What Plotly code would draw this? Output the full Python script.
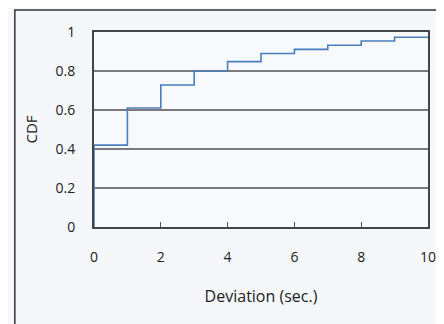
import plotly.graph_objects as go

deviation = [0, 0, 1, 2, 3, 4, 5, 6, 7, 8, 9, 10]
cdf = [0, 0.42, 0.61, 0.728, 0.80, 0.848, 0.89, 0.911, 0.932, 0.954, 0.973, 0.973]
x_ticks = [0, 2, 4, 6, 8, 10]
y_ticks = [0, 0.2, 0.4, 0.6, 0.8, 1]
y_tick_labels = ["0", "0.2", "0.4", "0.6", "0.8", "1"]

font_family = "Open Sans, sans-serif"

fig = go.Figure()
fig.add_trace(go.Scatter(
    x=deviation, y=cdf, mode="lines", line_shape="hv",
    line=dict(color="#4a7ebb", width=1.6), showlegend=False,
))

fig.update_layout(
    width=436, height=316,
    margin=dict(l=86, r=8, t=24, b=97),
    paper_bgcolor="#f5f7fb",
    plot_bgcolor="#f8f9fc",
    font=dict(family=font_family, size=14, color="#222"),
    xaxis=dict(
        range=[0, 10], tickvals=x_ticks, ticks="inside", ticklen=5,
        tickcolor="#555", showgrid=False, zeroline=False,
        showline=True, linecolor="#444", linewidth=2, mirror=True,
        ticklabelstandoff=16,
        title=dict(text="Deviation (sec.)", standoff=26, font=dict(size=16)),
        tickfont=dict(size=14),
    ),
    yaxis=dict(
        range=[0, 1], tickvals=y_ticks, ticktext=y_tick_labels,
        showgrid=True, gridcolor="#7a7a7a", gridwidth=1.5, zeroline=False,
        showline=True, linecolor="#444", linewidth=2, mirror=True,
        ticks="", ticklabelstandoff=14,
        title=dict(text="CDF", standoff=14, font=dict(size=15)),
        tickfont=dict(size=14),
    ),
    shapes=[
        dict(type="rect", xref="paper", yref="paper",
             x0=-0.237, x1=1.2, y0=-0.6, y1=1.113,
             line=dict(color="#333", width=1.5), layer="below"),
    ],
)

fig.write_html("out.html")
